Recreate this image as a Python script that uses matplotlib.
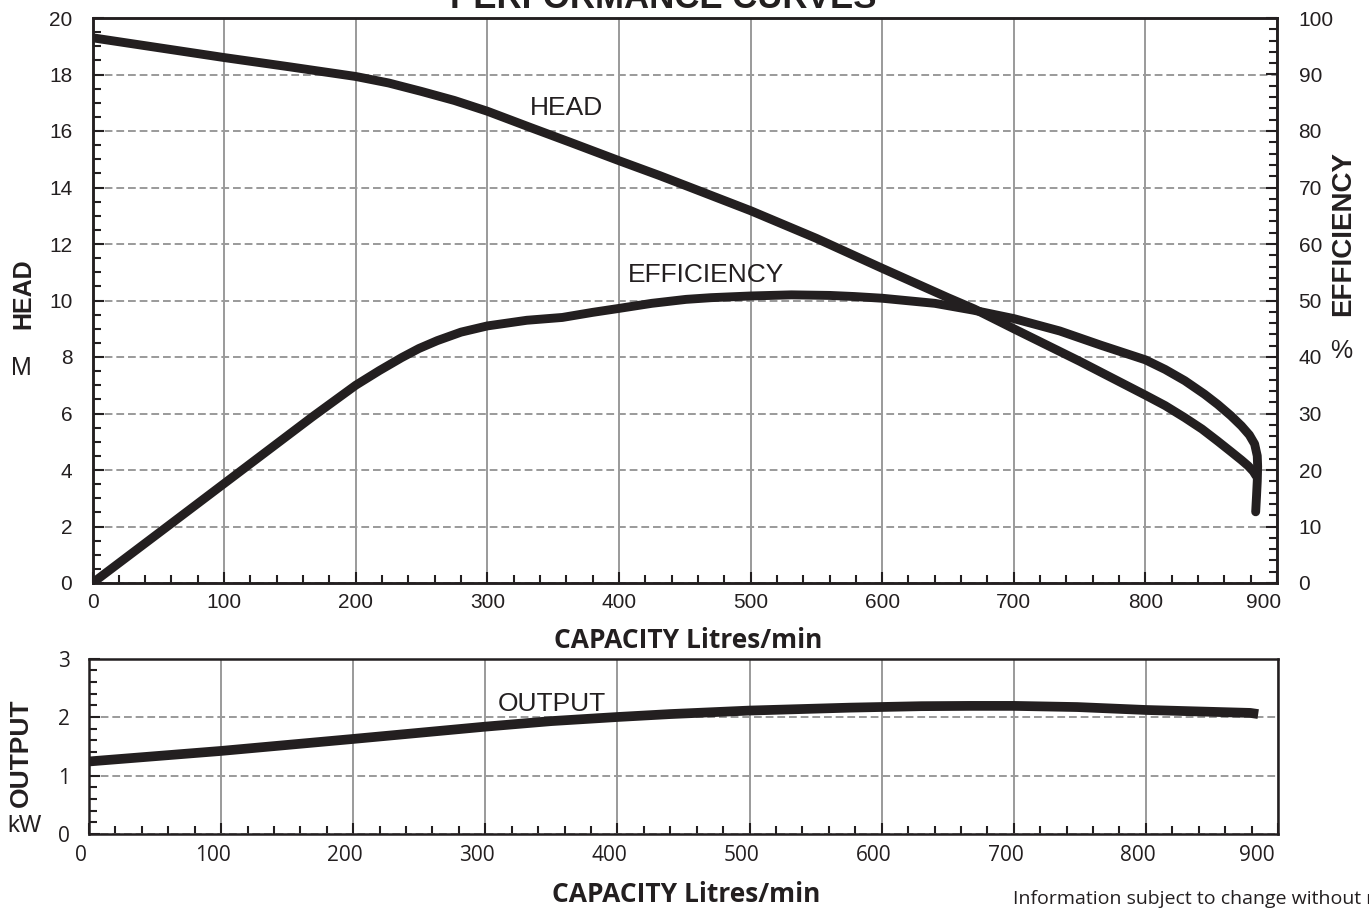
import matplotlib
matplotlib.use('Agg')
import matplotlib.pyplot as plt
import matplotlib.transforms as mtransforms
from matplotlib.ticker import MultipleLocator, FuncFormatter

# capacity (L/min) vs head (m)
head_x = [0, 50, 100, 150, 200, 225, 250, 275, 300, 333, 363, 400, 431, 450, 500, 550,
          600, 650, 670, 700, 750, 800, 815, 830, 843, 855, 865, 873, 878, 882, 884]
head_y = [19.3, 18.95, 18.6, 18.27, 17.93, 17.7, 17.4, 17.08, 16.7, 16.12, 15.6, 14.95,
          14.42, 14.08, 13.18, 12.2, 11.14, 10.1, 9.7, 9.0, 7.85, 6.65, 6.28, 5.85, 5.45,
          5.02, 4.65, 4.35, 4.15, 3.95, 3.8]

# capacity vs efficiency (%)
eff_x = [0, 58, 100, 167, 200, 218, 235, 248, 262, 280, 300, 330, 357, 380, 400, 425,
         451, 470, 500, 531, 560, 579, 600, 640, 669, 700, 735, 766, 800, 815, 830, 845,
         855, 865, 873, 879, 883, 885, 885.3, 885, 884.4, 883.8]
eff_y = [0, 10.2, 17.6, 29.4, 35.0, 37.6, 39.9, 41.5, 42.9, 44.4, 45.5, 46.5, 47.0, 47.9,
         48.6, 49.5, 50.2, 50.5, 50.8, 51.0, 50.9, 50.7, 50.4, 49.5, 48.3, 46.8, 44.6,
         42.1, 39.5, 37.8, 35.8, 33.4, 31.6, 29.6, 27.8, 26.2, 24.6, 22.5, 20.6, 18.0,
         15.2, 12.6]

# capacity vs power output (kW)
out_x = [0, 100, 200, 300, 350, 400, 440, 500, 576, 630, 667, 700, 748, 800, 879, 885]
out_y = [1.24, 1.42, 1.625, 1.835, 1.93, 2.0, 2.05, 2.11, 2.16, 2.185, 2.19, 2.19, 2.17,
         2.12, 2.07, 2.05]

INK = '#231f20'
GRID = '#9a9a9a'
W, H = 1369, 908

fig = plt.figure(figsize=(W / 100, H / 100), dpi=100)


def box(l, t, r, b):
    return [l / W, 1 - b / H, (r - l) / W, (b - t) / H]


def style(ax):
    for s in ax.spines.values():
        s.set_linewidth(1.8)
        s.set_color(INK)
    ax.set_axisbelow(True)
    ax.xaxis.grid(True, color=GRID, lw=1.4, ls='-')
    ax.yaxis.grid(True, color=GRID, lw=1.4, ls=(0, (4, 2)))
    ax.tick_params(which='both', direction='in', color=INK, width=1.5, top=False, right=False)
    ax.tick_params(which='major', length=8)
    ax.tick_params(which='minor', length=6)


# last x label (900) sits left of its tick in the original, drawn separately
no_last = FuncFormatter(lambda v, p: '' if v >= 900 else f'{v:.0f}')

# upper chart: head + efficiency
ax = fig.add_axes(box(92.5, 18, 1277, 583))
style(ax)
ax.set_xlim(0, 900)
ax.set_ylim(0, 20)
ax.xaxis.set_major_locator(MultipleLocator(100))
ax.xaxis.set_minor_locator(MultipleLocator(20))
ax.xaxis.set_major_formatter(no_last)
ax.yaxis.set_major_locator(MultipleLocator(2))
ax.yaxis.set_minor_locator(MultipleLocator(0.5))
ax.tick_params(axis='y', pad=14.5)
ax.tick_params(axis='x', pad=7)
for lab in ax.get_xticklabels() + ax.get_yticklabels():
    lab.set_fontfamily('Liberation Sans')
    lab.set_fontsize(15)
    lab.set_color(INK)
ax.annotate('900', xy=(900, 0), xycoords=('data', 'axes fraction'), xytext=(-10, -7),
            textcoords='offset points', ha='center', va='top', fontsize=15,
            family='Liberation Sans', color=INK)
ax.plot(head_x, head_y, color=INK, lw=6.4, solid_capstyle='round', solid_joinstyle='round')

ax2 = ax.twinx()
ax2.set_ylim(0, 100)
ax2.yaxis.set_major_locator(MultipleLocator(10))
ax2.yaxis.set_minor_locator(MultipleLocator(2))
ax2.tick_params(which='both', direction='in', color=INK, width=1.5, pad=15.5)
ax2.tick_params(which='major', length=8)
ax2.tick_params(which='minor', length=6)
for s in ax2.spines.values():
    s.set_linewidth(1.8)
    s.set_color(INK)
for lab in ax2.get_yticklabels():
    lab.set_fontfamily('Liberation Sans')
    lab.set_fontsize(15)
    lab.set_color(INK)
ax2.plot(eff_x, eff_y, color=INK, lw=6.4, solid_capstyle='round', solid_joinstyle='round')

ax.text(360, 16.8, 'HEAD', ha='center', va='center', fontsize=19,
        family='Liberation Sans', color=INK)
ax.text(466, 10.9, 'EFFICIENCY', ha='center', va='center', fontsize=19,
        family='Liberation Sans', color=INK)

# lower chart: output
bx = fig.add_axes(box(89, 658.5, 1278, 834))
style(bx)
bx.set_xlim(0, 900)
bx.set_ylim(0, 3)
bx.xaxis.set_major_locator(MultipleLocator(100))
bx.xaxis.set_minor_locator(MultipleLocator(20))
bx.xaxis.set_major_formatter(no_last)
bx.yaxis.set_major_locator(MultipleLocator(1))
bx.yaxis.set_minor_locator(MultipleLocator(0.2))
bx.tick_params(axis='y', pad=13.5)
bx.tick_params(axis='x', pad=8)
shift = mtransforms.ScaledTranslation(-8 / 100, 0, fig.dpi_scale_trans)
for lab in bx.get_xticklabels():
    lab.set_transform(lab.get_transform() + shift)
for lab in bx.get_xticklabels() + bx.get_yticklabels():
    lab.set_fontfamily('Open Sans')
    lab.set_fontsize(15)
    lab.set_color(INK)
bx.annotate('900', xy=(900, 0), xycoords=('data', 'axes fraction'), xytext=(-15, -8),
            textcoords='offset points', ha='center', va='top', fontsize=15,
            family='Open Sans', color=INK)
bx.plot(out_x, out_y, color=INK, lw=7, solid_capstyle='butt', solid_joinstyle='round')
bx.text(350, 2.22, 'OUTPUT', ha='center', va='center', fontsize=19,
        family='Liberation Sans', color=INK)


# figure texts
def ftext(x, y, s, **kw):
    fig.text(x / W, 1 - y / H, s, color=INK, **kw)


ftext(663, 8, 'PERFORMANCE CURVES', ha='center', va='baseline', fontsize=25,
      family='Liberation Sans', weight='bold')
ftext(23, 294, 'HEAD', ha='center', va='center', rotation=90, fontsize=18,
      family='Liberation Sans', weight='bold')
ftext(21, 368, 'M', ha='center', va='center', fontsize=18, family='Liberation Sans')
ftext(1343, 233, 'EFFICIENCY', ha='center', va='center', rotation=90, fontsize=20,
      family='Liberation Sans', weight='bold')
ftext(1341, 351, '%', ha='center', va='center', fontsize=18, family='Liberation Sans')
ftext(688, 640, 'CAPACITY Litres/min', ha='center', va='center', fontsize=19,
      family='Open Sans', weight='bold')
ftext(21, 753, 'OUTPUT', ha='center', va='center', rotation=90, fontsize=19,
      family='Liberation Sans', weight='bold')
ftext(24, 826, 'kW', ha='center', va='center', fontsize=17, family='Liberation Sans')
ftext(686, 894, 'CAPACITY Litres/min', ha='center', va='center', fontsize=19,
      family='Open Sans', weight='bold')
ftext(1013, 899, 'Information subject to change without notice', ha='left', va='center',
      fontsize=14, family='Open Sans')

fig.savefig('out.png', dpi=100)
